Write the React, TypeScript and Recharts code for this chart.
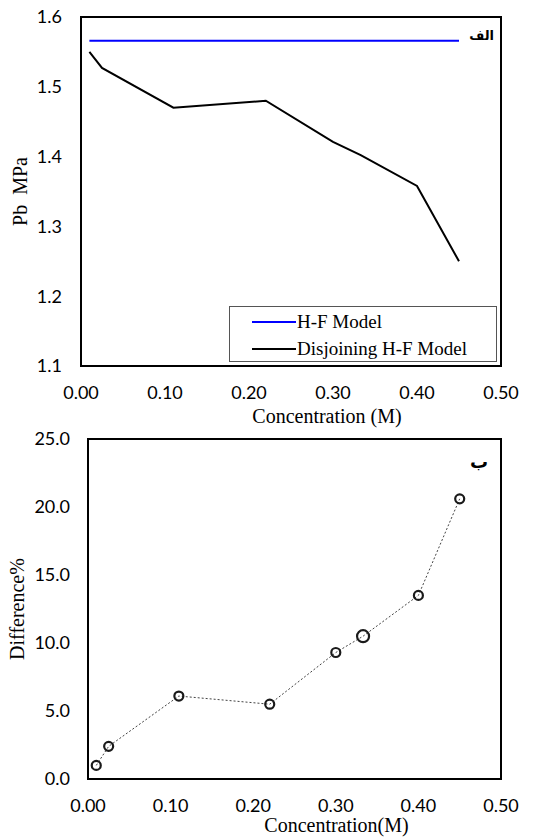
import React from 'react';
import { LineChart, Line, XAxis, YAxis, ReferenceArea, Legend, Label } from 'recharts';

const concentration = [0.01, 0.025, 0.11, 0.22, 0.3, 0.333, 0.4, 0.45];
const hfModel = [1.566, 1.566, 1.566, 1.566, 1.566, 1.566, 1.566, 1.566];
const disjoiningHF = [1.55, 1.527, 1.47, 1.48, 1.421, 1.402, 1.358, 1.25];
const differencePct = [1.0, 2.4, 6.1, 5.5, 9.3, 10.5, 13.5, 20.6];
const xTicks = [0, 0.1, 0.2, 0.3, 0.4, 0.5];
const pbTicks = [1.1, 1.2, 1.3, 1.4, 1.5, 1.6];
const diffTicks = [0, 5, 10, 15, 20, 25];
const seriesNames = ['H-F Model', 'Disjoining H-F Model'];

const pbData = concentration.map((c, i) => ({ c, hf: hfModel[i], dj: disjoiningHF[i] }));
const diffData = concentration.map((c, i) => ({ c, d: differencePct[i] }));

const SERIF = '"Liberation Serif", "Times New Roman", serif';
const SANS = 'Lato, "Liberation Sans", sans-serif';
const tickStyle = { fill: '#000', fontFamily: SANS, fontSize: 18 };

const xTitle = (text: string, dx: number, dy: number) => (props: any) => {
  const vb = props.viewBox || {};
  return (
    <text x={vb.x + vb.width / 2 + dx} y={vb.y + dy} textAnchor="middle" fill="#000"
      fontFamily={SERIF} fontSize={20} style={{ fontFamily: SERIF, fontSize: 20 }}>
      {text}
    </text>
  );
};

const yTitle = (text: string, x: number) => (props: any) => {
  const vb = props.viewBox || {};
  const cy = vb.y + vb.height / 2;
  return (
    <text x={x} y={cy} transform={`rotate(-90 ${x} ${cy})`} textAnchor="middle" dominantBaseline="central" fill="#000"
      xmlSpace="preserve" style={{ whiteSpace: 'pre', fontFamily: SERIF, fontSize: 20 }}>
      {text}
    </text>
  );
};

const cornerText = (text: string, dx: number, dy: number, size: number) => (props: any) => {
  const vb = props.viewBox || {};
  return (
    <text x={vb.x + vb.width - dx} y={vb.y + dy} direction="rtl" textAnchor="start" dominantBaseline="central" fill="#000"
      style={{ fontFamily: '"DejaVu Sans", sans-serif', fontWeight: 'bold', fontSize: size, direction: 'rtl' }}>
      {text}
    </text>
  );
};

const LegendBox = () => (
  <div style={{ width: 266, height: 54, border: '1px solid #555', background: '#fff', boxSizing: 'content-box', fontFamily: SERIF, fontSize: 19, color: '#000' }}>
    {seriesNames.map((n, i) => (
      <div key={n} style={{ display: 'flex', alignItems: 'center', height: 27, marginTop: i === 0 ? 1 : 0 }}>
        <svg width={67} height={10} style={{ display: 'block' }}>
          <line x1={22} y1={5} x2={66} y2={5} stroke={i === 0 ? '#0000ff' : '#000'} strokeWidth={2} />
        </svg>
        <span style={{ whiteSpace: 'nowrap' }}>{n}</span>
      </div>
    ))}
  </div>
);

const circleDot = (props: any) => {
  const { cx, cy, index } = props;
  const r = index === 5 ? 6 : 4.5;
  return <circle key={`d${index}`} cx={cx} cy={cy} r={r} fill="none" stroke="#1a1a1a" strokeWidth={2.2} />;
};

export default function App() {
  return (
    <div style={{ position: 'absolute', left: 0, top: 0, width: 549, height: 839, background: '#fff' }}>
      <div style={{ position: 'absolute', left: 0, top: 0 }}>
        <LineChart width={549} height={440} data={pbData} margin={{ top: 17, right: 48, left: 0, bottom: 0 }}>
          <XAxis dataKey="c" type="number" domain={[0, 0.5]} ticks={xTicks} interval={0}
            tickFormatter={(v: number) => v.toFixed(2)} axisLine={false} tickLine={false} tickSize={0} tickMargin={20}
            height={74} tick={tickStyle}>
            <Label content={xTitle('Concentration (M)', 36, 57)} />
          </XAxis>
          <YAxis type="number" domain={[1.1, 1.6]} ticks={pbTicks} interval={0}
            tickFormatter={(v: number) => v.toFixed(1)} axisLine={false} tickLine={false} tickSize={0} tickMargin={19}
            width={81} tick={tickStyle}>
            <Label content={yTitle('Pb  MPa', 20)} />
          </YAxis>
          <ReferenceArea x1={0} x2={0.5} y1={1.1} y2={1.6} fill="none" stroke="#000" strokeWidth={2} fillOpacity={0}
            label={cornerText('الف', 7, 18, 13)} />
          <Line dataKey="hf" name={seriesNames[0]} type="linear" stroke="#0000ff" strokeWidth={2} dot={false} isAnimationActive={false} />
          <Line dataKey="dj" name={seriesNames[1]} type="linear" stroke="#000" strokeWidth={2} dot={false} isAnimationActive={false} />
          <Legend layout="vertical" align="center" verticalAlign="middle" content={() => <LegendBox />}
            wrapperStyle={{ left: 229, top: 306, width: 268, height: 56 }} />
        </LineChart>
      </div>
      <div style={{ position: 'absolute', left: 0, top: 420 }}>
        <LineChart width={549} height={419} data={diffData} margin={{ top: 19, right: 48, left: 0, bottom: 0 }}>
          <XAxis dataKey="c" type="number" domain={[0, 0.5]} ticks={xTicks} interval={0}
            tickFormatter={(v: number) => v.toFixed(2)} axisLine={false} tickLine={false} tickSize={0} tickMargin={20}
            height={60} tick={tickStyle}>
            <Label content={xTitle('Concentration(M)', 42, 53)} />
          </XAxis>
          <YAxis type="number" domain={[0, 25]} ticks={diffTicks} interval={0}
            tickFormatter={(v: number) => v.toFixed(1)} axisLine={false} tickLine={false} tickSize={0} tickMargin={18}
            width={88} tick={tickStyle}>
            <Label content={yTitle('Difference%', 17)} />
          </YAxis>
          <ReferenceArea x1={0} x2={0.5} y1={0} y2={25} fill="none" stroke="#000" strokeWidth={2} fillOpacity={0}
            label={cornerText('ب', 13, 22, 18)} />
          <Line dataKey="d" type="linear" stroke="#444" strokeWidth={1} strokeDasharray="2 2" dot={circleDot} isAnimationActive={false} />
        </LineChart>
      </div>
    </div>
  );
}
